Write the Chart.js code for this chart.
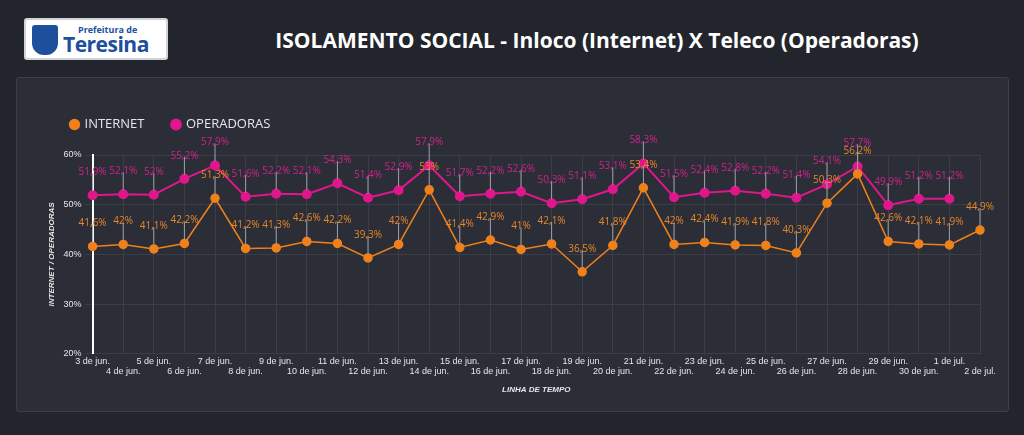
<!DOCTYPE html>
<html>
<head>
<meta charset="utf-8">
<script src="https://cdn.jsdelivr.net/npm/chart.js@4/dist/chart.umd.min.js"></script>
<style>
  body { margin: 0; background: #22252c; font-family: "Open Sans", sans-serif; width: 1024px; height: 435px; overflow: hidden; position: relative; }
  #logo { position: absolute; left: 24px; top: 18px; width: 144px; height: 42px; background: #fff; border-radius: 3px; border: 2px solid #cfd3da; box-sizing: border-box; }
  #logo .crest { position: absolute; left: 6px; top: 5px; width: 26px; height: 30px; background: #1d4f9c; border-radius: 3px 3px 12px 12px; }
  #logo .small { position: absolute; left: 52px; top: 3px; font-size: 9px; font-weight: bold; color: #1d4f9c; }
  #logo .big { position: absolute; left: 37px; top: 10px; font-size: 21px; font-weight: bold; color: #1d4f9c; letter-spacing: -0.5px; }
  #title { position: absolute; left: 170px; right: 0; top: 26px; text-align: center; color: #fff; font-size: 21px; font-weight: bold; }
  #panel { position: absolute; left: 16px; top: 77px; width: 991px; height: 333px; background: #2b2e37; border: 1px solid #3c3f48; border-radius: 3px; }
</style>
</head>
<body>
<div id="logo"><div class="crest"></div><div class="small">Prefeitura de</div><div class="big">Teresina</div></div>
<div id="title">ISOLAMENTO SOCIAL - Inloco (Internet) X Teleco (Operadoras)</div>
<div id="panel"><canvas id="chart" width="991" height="333"></canvas></div>
<script>
const dias = ['3 de jun.', '4 de jun.', '5 de jun.', '6 de jun.', '7 de jun.', '8 de jun.', '9 de jun.', '10 de jun.',
  '11 de jun.', '12 de jun.', '13 de jun.', '14 de jun.', '15 de jun.', '16 de jun.', '17 de jun.', '18 de jun.',
  '19 de jun.', '20 de jun.', '21 de jun.', '22 de jun.', '23 de jun.', '24 de jun.', '25 de jun.', '26 de jun.',
  '27 de jun.', '28 de jun.', '29 de jun.', '30 de jun.', '1 de jul.', '2 de jul.'];
const internet = [41.6, 42, 41.1, 42.2, 51.3, 41.2, 41.3, 42.6, 42.2, 39.3, 42, 53, 41.4, 42.9, 41, 42.1,
  36.5, 41.8, 53.4, 42, 42.4, 41.9, 41.8, 40.3, 50.3, 56.2, 42.6, 42.1, 41.9, 44.9];
const operadoras = [51.9, 52.1, 52, 55.2, 57.9, 51.6, 52.2, 52.1, 54.3, 51.4, 52.9, 57.9, 51.7, 52.2, 52.6, 50.3,
  51.1, 53.1, 58.3, 51.5, 52.4, 52.8, 52.2, 51.4, 54.1, 57.7, 49.9, 51.2, 51.2, null];
const yTicks = [20, 30, 40, 50, 60];

const fmt = v => String(v).replace('.', ',') + '%';

const labelPlugin = {
  id: 'pointLabels',
  afterDatasetsDraw(chart) {
    const ctx = chart.ctx;
    ctx.save();
    ctx.font = '10px "Open Sans"';
    ctx.textAlign = 'center';
    ctx.textBaseline = 'bottom';
    chart.data.datasets.forEach((ds, i) => {
      chart.getDatasetMeta(i).data.forEach((pt, j) => {
        const v = ds.data[j];
        if (v == null) return;
        ctx.strokeStyle = '#9aa0aa';
        ctx.lineWidth = 1;
        ctx.beginPath();
        ctx.moveTo(pt.x, pt.y - 4);
        ctx.lineTo(pt.x, pt.y - 22);
        ctx.stroke();
        ctx.fillStyle = ds.labelColor;
        ctx.fillText(fmt(v), pt.x, pt.y - 18);
      });
    });
    ctx.restore();
  }
};

const legendSpace = {
  id: 'legendSpace',
  beforeInit(chart) {
    const orig = chart.legend.fit;
    chart.legend.fit = function () { orig.bind(chart.legend)(); this.height += 14; };
  }
};

new Chart(document.getElementById('chart'), {
  type: 'line',
  data: {
    labels: dias.map((d, i) => i % 2 === 0 ? [d, ''] : ['', d]),
    datasets: [{
      label: 'INTERNET',
      data: internet,
      borderColor: '#f0801a',
      backgroundColor: '#f0801a',
      labelColor: '#e8862a',
      borderWidth: 1.5,
      pointRadius: 4,
      tension: 0
    }, {
      label: 'OPERADORAS',
      data: operadoras,
      borderColor: '#e0168c',
      backgroundColor: '#e0168c',
      labelColor: '#d0228a',
      borderWidth: 2,
      pointRadius: 4,
      tension: 0
    }]
  },
  options: {
    responsive: false,
    animation: false,
    layout: { padding: { left: 26, right: 28, top: 12, bottom: 12 } },
    plugins: {
      legend: {
        align: 'start',
        labels: { color: '#e6e6e6', font: { size: 13, family: '"Open Sans"' }, usePointStyle: true, pointStyle: 'circle', boxWidth: 7, boxHeight: 7, padding: 28 }
      },
      tooltip: { enabled: false }
    },
    scales: {
      x: {
        grid: { color: '#3b3e47', tickLength: 0 },
        border: { display: false },
        ticks: { color: '#e6e6e6', font: { size: 9 }, maxRotation: 0, autoSkip: false, padding: 2 },
        title: { display: true, text: 'LINHA DE TEMPO', color: '#e6e6e6', font: { size: 8, style: 'italic', weight: 'bold' }, padding: { top: 6 } }
      },
      y: {
        min: 20, max: 60,
        afterBuildTicks: axis => { axis.ticks = yTicks.map(v => ({ value: v })); },
        grid: { color: '#3b3e47' },
        border: { color: '#ffffff', width: 2 },
        ticks: { color: '#e6e6e6', font: { size: 9 }, callback: v => v + '%' },
        title: { display: true, text: 'INTERNET / OPERADORAS', color: '#e6e6e6', font: { size: 8, style: 'italic', weight: 'bold' } }
      }
    }
  },
  plugins: [labelPlugin, legendSpace]
});
</script>
</body>
</html>
